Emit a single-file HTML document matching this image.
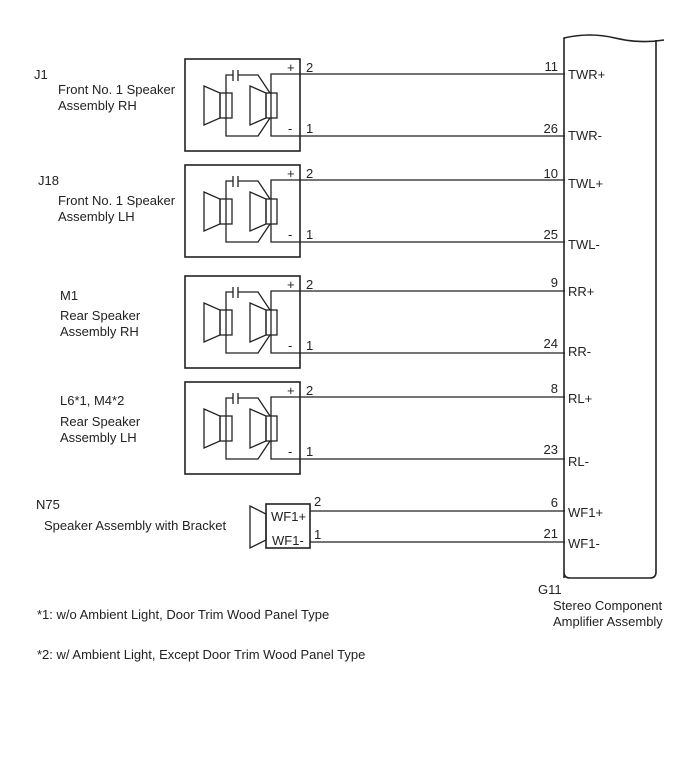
<!DOCTYPE html>
<html><head><style>body{margin:0;background:#fff}text{font-family:"Liberation Sans",Arial,sans-serif;font-size:13px;fill:#222}</style></head><body>
<svg width="688" height="755" viewBox="0 0 688 755" xmlns="http://www.w3.org/2000/svg">
<defs>
<g id="spk" fill="none" stroke="#222" stroke-width="1.3">
<rect x="185" y="0" width="115" height="92" stroke-width="1.6"/>
<polygon points="204,27 220,34 220,59 204,66"/>
<rect x="220" y="34" width="12" height="25"/>
<polygon points="250,27 266,34 266,59 250,66"/>
<rect x="266" y="34" width="11" height="25"/>
<polyline points="233,16 226,16 226,77 258,77 270,59"/>
<line x1="233" y1="11" x2="233" y2="22"/><line x1="238" y1="11" x2="238" y2="22"/>
<polyline points="238,16 258,16 270,34"/>
<polyline points="565,15 271,15 271,77 565,77"/>
</g>
</defs>
<g fill="none" stroke="#222" stroke-width="1.6">
<path d="M564,578 V38 Q590,32 615,38 T664,40 M656,40 V572 Q656,578 650,578 H570 Q564,578 564,572"/>
</g>
<use href="#spk" y="59"/>
<use href="#spk" y="165"/>
<use href="#spk" y="276"/>
<use href="#spk" y="382"/>
<g fill="none" stroke="#222" stroke-width="1.3">
<rect x="266" y="504" width="44" height="44" stroke-width="1.6"/>
<polygon points="250,506 266,514 266,540 250,548"/>
<line x1="310" y1="511" x2="565" y2="511"/>
<line x1="310" y1="542" x2="565" y2="542"/>
</g>
<text x="34" y="79">J1</text><text x="58" y="94">Front No. 1 Speaker</text><text x="58" y="110">Assembly RH</text>
<text x="38" y="185">J18</text><text x="58" y="205">Front No. 1 Speaker</text><text x="58" y="221">Assembly LH</text>
<text x="60" y="300">M1</text><text x="60" y="320">Rear Speaker</text><text x="60" y="336">Assembly RH</text>
<text x="60" y="405">L6*1, M4*2</text><text x="60" y="426">Rear Speaker</text><text x="60" y="442">Assembly LH</text>
<text x="36" y="509">N75</text><text x="44" y="530">Speaker Assembly with Bracket</text>
<text x="271" y="521">WF1+</text><text x="272" y="545">WF1-</text>
<g>
<text x="287" y="72">+</text><text x="288" y="133">-</text><text x="306" y="72">2</text><text x="306" y="133">1</text>
<text x="287" y="178">+</text><text x="288" y="239">-</text><text x="306" y="178">2</text><text x="306" y="239">1</text>
<text x="287" y="289">+</text><text x="288" y="350">-</text><text x="306" y="289">2</text><text x="306" y="350">1</text>
<text x="287" y="395">+</text><text x="288" y="456">-</text><text x="306" y="395">2</text><text x="306" y="456">1</text>
<text x="314" y="506">2</text><text x="314" y="539">1</text>
</g>
<g text-anchor="end">
<text x="558" y="71">11</text><text x="558" y="133">26</text>
<text x="558" y="178">10</text><text x="558" y="239">25</text>
<text x="558" y="287">9</text><text x="558" y="348">24</text>
<text x="558" y="393">8</text><text x="558" y="454">23</text>
<text x="558" y="507">6</text><text x="558" y="538">21</text>
</g>
<text x="568" y="79">TWR+</text><text x="568" y="140">TWR-</text>
<text x="568" y="188">TWL+</text><text x="568" y="249">TWL-</text>
<text x="568" y="296">RR+</text><text x="568" y="356">RR-</text>
<text x="568" y="403">RL+</text><text x="568" y="466">RL-</text>
<text x="568" y="517">WF1+</text><text x="568" y="548">WF1-</text>
<text x="538" y="594">G11</text><text x="553" y="610">Stereo Component</text><text x="553" y="626">Amplifier Assembly</text>
<text x="37" y="619">*1: w/o Ambient Light, Door Trim Wood Panel Type</text>
<text x="37" y="659">*2: w/ Ambient Light, Except Door Trim Wood Panel Type</text>
</svg>
</body></html>
